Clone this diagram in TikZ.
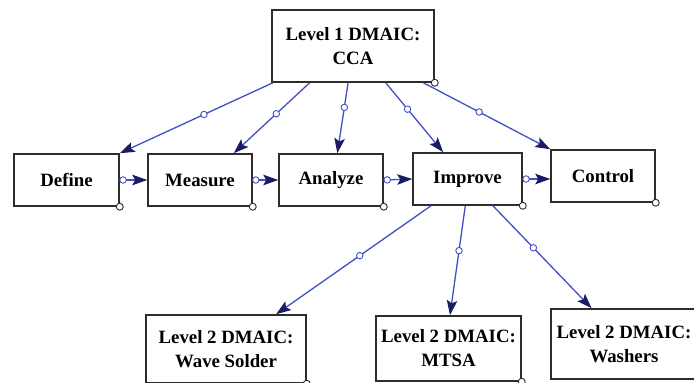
\documentclass[tikz,border=0pt]{standalone}
\usepackage{fontspec}
\setmainfont{Liberation Serif}
\usetikzlibrary{arrows.meta, calc}
\definecolor{boxgray}{RGB}{45,45,45}
\definecolor{linkblue}{RGB}{65,80,195}
\definecolor{tipnavy}{RGB}{25,28,100}

\begin{document}
\begin{tikzpicture}[x=1pt,y=-1pt,
    box/.style={draw=boxgray,line width=1.5pt,fill=white,align=center,inner sep=0pt,
        font=\bfseries\fontsize{18.8}{24}\selectfont},
    link/.style={draw=linkblue,line width=1.3pt,
        -{Stealth[length=15pt,width=10.5pt,inset=3pt,color=tipnavy]}},
    ring/.style={circle,draw=linkblue,fill=white,line width=0.9pt,inner sep=0pt,minimum size=6.5pt},
    corner/.style={circle,draw=boxgray,fill=white,line width=0.9pt,inner sep=0pt,minimum size=7pt}
    ]
    \clip (0,0) rectangle (694,383);
    \fill[white] (0,0) rectangle (694,383);

    % Level 1
    \node[box,minimum width=162pt,minimum height=72pt] (cca) at (353,46) {Level 1 DMAIC:\\CCA};

    % DMAIC steps
    \node[box,minimum width=105pt,minimum height=52pt] (define) at (66.5,180) {Define};
    \node[box,minimum width=104pt,minimum height=52pt] (measure) at (200,180) {Measure};
    \node[box,minimum width=104pt,minimum height=52pt] (analyze) at (331,180) {Analyze};
    \node[box,minimum width=109pt,minimum height=52pt] (improve) at (467.5,179) {Improve};
    \node[box,minimum width=104pt,minimum height=52pt] (control) at (603,176) {Control};

    % Level 2
    \node[box,minimum width=160pt,minimum height=68pt] (wave) at (226,349) {Level 2 DMAIC:\\Wave Solder};
    \node[box,minimum width=145pt,minimum height=65pt] (mtsa) at (448.5,348.5) {Level 2 DMAIC:\\MTSA};
    \node[box,minimum width=146pt,minimum height=70pt] (washers) at (624,344) {Level 2 DMAIC:\\Washers};

    % top box to steps
    \draw[link] ($(cca.south west)!.01!(cca.south east)$) -- node[ring,pos=.45]{} (define.north east);
    \draw[link] ($(cca.south west)!.235!(cca.south east)$) -- node[ring,pos=.44]{} ($(measure.north west)!.82!(measure.north east)$);
    \draw[link] ($(cca.south west)!.47!(cca.south east)$) -- node[ring,pos=.35]{} ($(analyze.north west)!.56!(analyze.north east)$);
    \draw[link] ($(cca.south west)!.70!(cca.south east)$) -- node[ring,pos=.38]{} ($(improve.north west)!.28!(improve.north east)$);
    \draw[link] ($(cca.south west)!.93!(cca.south east)$) -- node[ring,pos=.44]{} (control.north west);

    % step to step
    \draw[link] (define.east) -- node[ring,pos=.12]{} (measure.west);
    \draw[link] (measure.east) -- node[ring,pos=.12]{} (analyze.west);
    \draw[link] (analyze.east) -- node[ring,pos=.12]{} (improve.west);
    \draw[link] (improve.east) -- node[ring,pos=.12]{} (improve.east -| control.west);

    % improve to level 2
    \draw[link] ($(improve.south west)!.17!(improve.south east)$) -- node[ring,pos=.46]{} ($(wave.north west)!.81!(wave.north east)$);
    \draw[link] ($(improve.south west)!.48!(improve.south east)$) -- node[ring,pos=.41]{} ($(mtsa.north west)!.51!(mtsa.north east)$);
    \draw[link] ($(improve.south west)!.73!(improve.south east)$) -- node[ring,pos=.41]{} ($(washers.north west)!.28!(washers.north east)$);

    % corner markers
    \foreach \n in {cca,define,measure,analyze,improve,control,wave,mtsa,washers}
        \node[corner] (\n-c) at (\n.south east) {};
\end{tikzpicture}
\end{document}
